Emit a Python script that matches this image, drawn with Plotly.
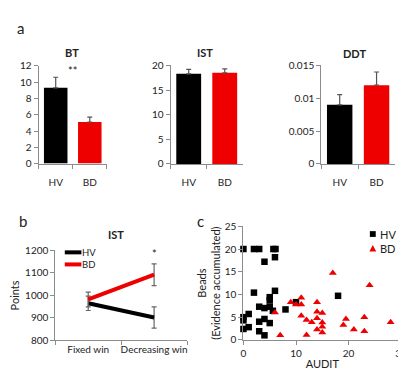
import plotly.graph_objects as go

# ---------------- data ----------------
groups = ["HV", "BD"]
bt_mean = [9.3, 5.1]
bt_err = [1.3, 0.6]
ist_mean = [18.3, 18.5]
ist_err = [0.9, 0.8]
ddt_mean = [0.009, 0.012]
ddt_err = [0.00155, 0.002]

conditions = ["Fixed win", "Decreasing win"]
ist_hv_points = [965, 902]
ist_hv_err = [32, 47]
ist_bd_points = [982, 1092]
ist_bd_err = [33, 48]

hv_audit = [0, 2, 3, 5.7, 6.1, 4, 6, 2, 6, 5, 5, 18, 10, 8, 3, 4, 5, 5.6, 1, 0, 0, 3, 4, 5, 1, 0, 3, 4]
hv_beads = [20, 20, 20, 20, 20, 17.2, 18.2, 10.4, 10.8, 9.4, 8.7, 9.7, 8.3, 6.7, 7.3, 7.0, 7.3, 6.4, 5.7, 5.0, 4.3, 4.0, 4.6, 3.7, 2.8, 2.4, 1.9, 1.0]
bd_audit = [6, 7, 9, 10, 11, 11, 11, 12, 12, 13, 14, 14, 14, 14, 15, 15, 15, 15, 17, 19, 19.5, 21, 23, 23, 24, 28]
bd_beads = [6, 1, 8.3, 7.8, 9.3, 7.8, 5.3, 4.4, 1.05, 3.9, 8.3, 6.2, 4.75, 2.3, 5.9, 3.8, 2.9, 1.6, 14.7, 3.3, 4.6, 2.3, 5.0, 1.9, 12.0, 3.9]

# ---------------- styling ----------------
W, H = 406, 370
BLACK = "#000000"
RED = "#ee0000"
AXC = "#8c8c8c"
TXT = "#222222"
FONT = "Lato"


def px(a, b):
    return [a / W, b / W]


def py(top, bottom):
    return [(H - bottom) / H, (H - top) / H]


def X(v):
    return v / W


def Y(v):
    return (H - v) / H


fig = go.Figure()

bar_panels = [
    ("x", "y", bt_mean, bt_err),
    ("x2", "y2", ist_mean, ist_err),
    ("x3", "y3", ddt_mean, ddt_err),
]
for xa, ya, m, e in bar_panels:
    fig.add_trace(go.Bar(
        x=groups, y=m, xaxis=xa, yaxis=ya,
        marker=dict(color=[BLACK, RED], line=dict(width=0)),
        error_y=dict(type="data", array=e, arrayminus=[0, 0], symmetric=False,
                     color="#555555", thickness=1.2, width=2.5),
        showlegend=False, width=0.69,
    ))

# panel b lines
fig.add_trace(go.Scatter(
    x=conditions, y=ist_hv_points, xaxis="x4", yaxis="y4", mode="lines",
    name="HV", line=dict(color=BLACK, width=4),
    error_y=dict(type="data", array=ist_hv_err, color="#666666", thickness=1.2, width=2.5),
    showlegend=False,
))
fig.add_trace(go.Scatter(
    x=conditions, y=ist_bd_points, xaxis="x4", yaxis="y4", mode="lines",
    name="BD", line=dict(color=RED, width=4),
    error_y=dict(type="data", array=ist_bd_err, color="#666666", thickness=1.2, width=2.5),
    showlegend=False,
))

# panel c scatter
fig.add_trace(go.Scatter(
    x=hv_audit, y=hv_beads, xaxis="x5", yaxis="y5", mode="markers", name="HV",
    marker=dict(symbol="square", size=6.5, color=BLACK), cliponaxis=False, showlegend=False,
))
fig.add_trace(go.Scatter(
    x=bd_audit, y=bd_beads, xaxis="x5", yaxis="y5", mode="markers", name="BD",
    marker=dict(symbol="triangle-up", size=7, color=RED), cliponaxis=False, showlegend=False,
))

common_ax = dict(showline=True, linecolor=AXC, linewidth=1, showgrid=False, zeroline=False,
                 ticks="outside", tickcolor=AXC, ticklen=4, tickfont=dict(size=10, color=TXT))

cat_x = dict(common_ax, type="category", range=[-0.5, 1.5], tickson="boundaries", tickangle=0)

fig.update_layout(
    width=W, height=H, margin=dict(l=0, r=0, t=0, b=0),
    paper_bgcolor="white", plot_bgcolor="white",
    font=dict(family=FONT, size=10, color=TXT),
    bargap=0.31,
    showlegend=False,
    xaxis=dict(cat_x, domain=px(28.3, 98), anchor="y", ticklabelstandoff=9),
    yaxis=dict(common_ax, domain=py(52.7, 154), anchor="x", range=[0, 12], dtick=2),
    xaxis2=dict(cat_x, domain=px(163.3, 237), anchor="y2", ticklabelstandoff=9),
    yaxis2=dict(common_ax, domain=py(52.3, 154.3), anchor="x2", range=[0, 20], dtick=5),
    xaxis3=dict(cat_x, domain=px(317.3, 392.7), anchor="y3", ticklabelstandoff=9),
    yaxis3=dict(common_ax, domain=py(52.3, 154.3), anchor="x3", range=[0, 0.015], dtick=0.005),
    xaxis4=dict(cat_x, domain=px(45.3, 180), anchor="y4"),
    yaxis4=dict(common_ax, domain=py(244, 337.3), anchor="x4", range=[800, 1200], dtick=100,
                title=dict(text="Points", font=dict(size=11, color=TXT), standoff=4)),
    xaxis5=dict(common_ax, domain=px(237.7, 399), anchor="y5", range=[0, 30], dtick=10,
                title=dict(text="AUDIT", font=dict(size=11, color=TXT), standoff=2)),
    yaxis5=dict(common_ax, domain=py(219, 336.7), anchor="x5", range=[0, 25], dtick=5,
                title=dict(text="Beads<br>(Evidence accumulated)", font=dict(size=11, color=TXT), standoff=1)),
)

ann = []
shapes = []
# panel letters
for t, x, y in [("a", 10, 13), ("b", 12, 213), ("c", 194, 214)]:
    ann.append(dict(text=t, x=X(x), y=Y(y), xref="paper", yref="paper",
                    showarrow=False, font=dict(size=15, color=TXT), xanchor="center", yanchor="middle"))
# panel titles
for t, x, y in [("BT", 62, 39), ("IST", 198, 39), ("DDT", 351, 40), ("IST", 107, 228)]:
    ann.append(dict(text="<b>" + t + "</b>", x=X(x), y=Y(y), xref="paper", yref="paper",
                    showarrow=False, font=dict(size=11, color=TXT), xanchor="center", yanchor="middle"))
# panel b legend
for t, col, y in [("HV", BLACK, 246), ("BD", RED, 258.5)]:
    shapes.append(dict(type="line", xref="paper", yref="paper", x0=X(55), x1=X(72),
                       y0=Y(y), y1=Y(y), line=dict(color=col, width=4)))
    ann.append(dict(text=t, x=X(72), y=Y(y), xref="paper", yref="paper", showarrow=False,
                    xanchor="left", yanchor="middle", font=dict(size=9.5, color=TXT),
                    borderpad=0))
# panel c legend
shapes.append(dict(type="rect", xref="paper", yref="paper", x0=X(367), x1=X(373),
                   y0=Y(230), y1=Y(224), fillcolor=BLACK, line=dict(width=0)))
ty = 242
shapes.append(dict(type="path", xref="paper", yref="paper",
                   path=f"M {X(366.5)} {Y(ty + 3)} L {X(373.5)} {Y(ty + 3)} L {X(370)} {Y(ty - 3.5)} Z",
                   fillcolor=RED, line=dict(width=0)))
for t, y in [("HV", 227), ("BD", 242)]:
    ann.append(dict(text=t, x=X(376), y=Y(y), xref="paper", yref="paper", showarrow=False,
                    xanchor="left", yanchor="middle", font=dict(size=11, color=TXT), borderpad=0))
# significance stars
ann.append(dict(text="**", x=0.5, y=11.4, xref="x", yref="y", showarrow=False,
                font=dict(size=11, color=TXT)))
ann.append(dict(text="*", x=1, y=1185, xref="x4", yref="y4", showarrow=False,
                font=dict(size=11, color=TXT)))
fig.update_layout(annotations=ann, shapes=shapes)

fig.write_html("out.html")
